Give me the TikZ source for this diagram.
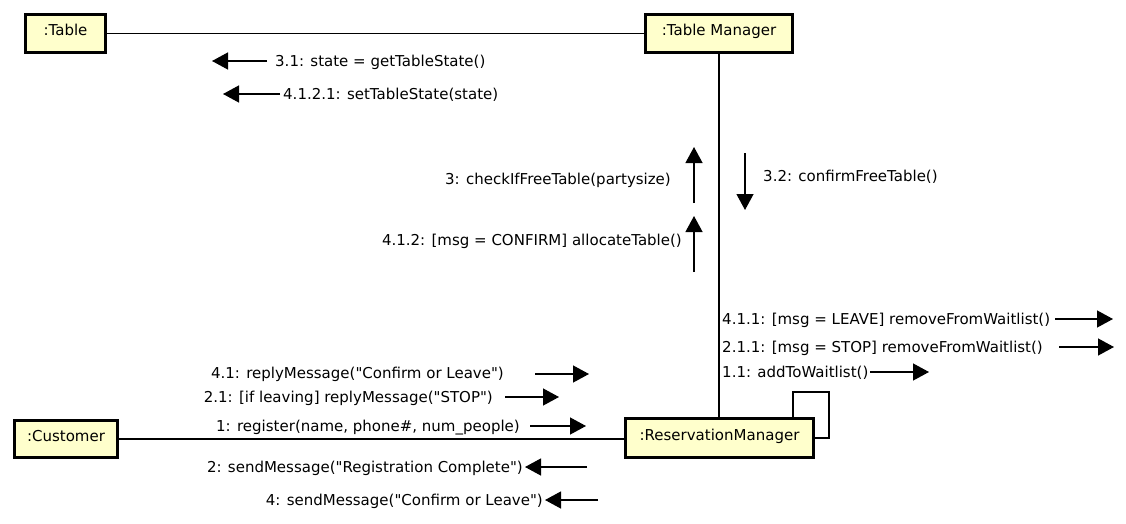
\documentclass[tikz,border=0pt]{standalone}
\usepackage{fontspec}
\setmainfont{DejaVu Sans}[Ligatures=TeXOff]
\usetikzlibrary{arrows.meta}
\definecolor{boxfill}{RGB}{255,255,204}
\tikzset{
  obj/.style={draw=black, line width=3.5pt, fill=boxfill, inner sep=0pt,
    font=\fontsize{15}{18}\selectfont, text height=10.5pt, text depth=6pt},
  lbl/.style={inner sep=0pt, font=\fontsize{15}{18}\selectfont, text height=11pt, text depth=0pt},
  link/.style={line width=1.3pt, draw=black},
  msg/.style={line width=1.3pt, draw=black, -{Triangle[length=16pt,width=17pt]}}
}
\begin{document}
\begin{tikzpicture}[x=1pt,y=-1pt]
\useasboundingbox (0,0) rectangle (1126,524);
% objects
\node[obj, minimum width=80pt, minimum height=38pt] (table) at (65.5,33.5) {:Table};
\node[obj, minimum width=147pt, minimum height=38pt] (tm) at (719,33.5) {:Table Manager};
\node[obj, minimum width=188pt, minimum height=39pt] (rm) at (719.5,438) {:ReservationManager};
\node[obj, minimum width=103pt, minimum height=37pt] (cust) at (66,439) {:Customer};
% links
\draw[link] (table.east) -- (tm.west);
\draw[link] (tm.south) -- (rm.north -| tm.south);
\draw[link] (cust.east) -- (cust.east -| rm.west);
\coordinate (lp1) at (793,392);
\coordinate (lp2) at (829,392);
\draw[link] (rm.north -| lp1) -- (lp1) -- (lp2) |- (rm.east);
% labels
\node[lbl, anchor=west] (m31) at (275,61) {3.1: state = getTableState()};
\node[lbl, anchor=west] (m4121) at (283,94) {4.1.2.1: setTableState(state)};
\node[lbl, anchor=east] (m3) at (671,179) {3: checkIfFreeTable(partysize)};
\node[lbl, anchor=east] (m412) at (682,240) {4.1.2: [msg = CONFIRM] allocateTable()};
\node[lbl, anchor=west] (m32) at (763,176) {3.2: confirmFreeTable()};
\node[lbl, anchor=west] (m411) at (722,319) {4.1.1: [msg = LEAVE] removeFromWaitlist()};
\node[lbl, anchor=west] (m211) at (722,347) {2.1.1: [msg = STOP] removeFromWaitlist()};
\node[lbl, anchor=west] (m11) at (722,372) {1.1: addToWaitlist()};
\node[lbl, anchor=east] (m41) at (504,373) {4.1: replyMessage("Confirm or Leave")};
\node[lbl, anchor=east] (m21) at (493,397) {2.1: [if leaving] replyMessage("STOP")};
\node[lbl, anchor=east] (m1) at (520,426) {1: register(name, phone\#, num\_people)};
\node[lbl, anchor=east] (m2) at (523,467) {2: sendMessage("Registration Complete")};
\node[lbl, anchor=east] (m4) at (543,500) {4: sendMessage("Confirm or Leave")};
% message arrows
\coordinate (a31s) at (267,61);   \coordinate (a31e) at (212,61);
\coordinate (a4121s) at (280,94); \coordinate (a4121e) at (223,94);
\coordinate (a3s) at (694,203);   \coordinate (a3e) at (694,147);
\coordinate (a412s) at (694,272); \coordinate (a412e) at (694,216);
\coordinate (a32s) at (745,153);  \coordinate (a32e) at (745,210);
\coordinate (a411s) at (1055,319); \coordinate (a411e) at (1113,319);
\coordinate (a211s) at (1059,347); \coordinate (a211e) at (1114,347);
\coordinate (a11s) at (870,372);  \coordinate (a11e) at (929,372);
\coordinate (a41s) at (535,374);  \coordinate (a41e) at (589,374);
\coordinate (a21s) at (505,397);  \coordinate (a21e) at (559,397);
\coordinate (a1s) at (530,426);   \coordinate (a1e) at (586,426);
\coordinate (a2s) at (587,467);   \coordinate (a2e) at (525,467);
\coordinate (a4s) at (598,500);   \coordinate (a4e) at (545,500);
\foreach \a in {a31,a4121,a3,a412,a32,a411,a211,a11,a41,a21,a1,a2,a4}
  \draw[msg] (\a s) -- (\a e);
\end{tikzpicture}
\end{document}
